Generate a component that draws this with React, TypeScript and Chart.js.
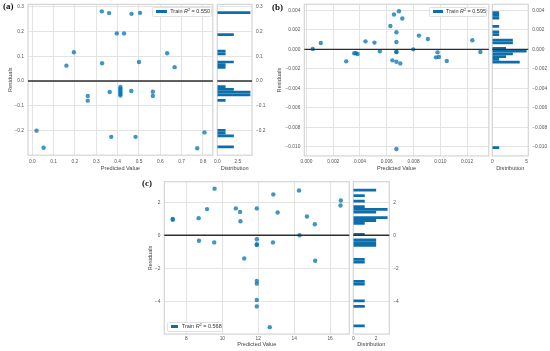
import React, { useEffect, useRef } from "react";
import { Chart, registerables } from "chart.js";

Chart.register(...registerables);

// ---------------- Panel (a) ----------------
const aPredicted = [0.02, 0.053, 0.16, 0.195, 0.26, 0.26, 0.326, 0.327, 0.36, 0.363, 0.37, 0.396, 0.43, 0.413, 0.413, 0.413, 0.413, 0.413, 0.413, 0.464, 0.465, 0.484, 0.5, 0.505, 0.565, 0.565, 0.632, 0.667, 0.773, 0.807];
const aResiduals = [-0.2, -0.269, 0.062, 0.116, -0.06, -0.079, 0.281, 0.072, 0.274, -0.044, -0.225, 0.192, 0.192, -0.024, -0.031, -0.037, -0.045, -0.052, -0.058, -0.04, 0.271, -0.225, 0.077, 0.275, -0.043, -0.06, 0.112, 0.056, -0.271, -0.207];
const aXTicks = [0, 0.1, 0.2, 0.3, 0.4, 0.5, 0.6, 0.7, 0.8];
const aYTicks = [-0.2, -0.1, 0, 0.1, 0.2, 0.3];
const aHistTicks = [0, 2.5];
const aXRange = [-0.02, 0.846];
const aYRange = [-0.299, 0.309];
const aHistMax = 4.2;
const aScore = "0.550";

// ---------------- Panel (b) ----------------
const bPredicted = [0.00047, 0.00107, 0.00297, 0.00357, 0.00369, 0.00382, 0.00441, 0.00508, 0.00548, 0.00627, 0.00654, 0.00691, 0.00716, 0.00672, 0.00672, 0.00672, 0.00672, 0.00642, 0.00672, 0.00701, 0.00672, 0.00798, 0.0084, 0.00907, 0.00979, 0.00967, 0.00989, 0.01048, 0.01239, 0.01299];
const bResiduals = [0.00003, 0.00065, -0.00123, -0.0004, -0.0004, -0.00048, 0.00082, 0.00069, -0.0002, 0.0024, 0.00357, 0.00391, 0.00316, 0.00175, 0.00075, -0.00027, -0.00027, -0.00113, -0.00127, -0.00144, -0.01022, 0.0, 0.00141, 0.00106, -0.00031, -0.00082, -0.00079, -0.0012, 0.00093, -0.00027];
const bXTicks = [0, 0.002, 0.004, 0.006, 0.008, 0.01, 0.012];
const bYTicks = [-0.01, -0.008, -0.006, -0.004, -0.002, 0, 0.002, 0.004];
const bHistTicks = [0, 5];
const bXRange = [-0.00016, 0.01362];
const bYRange = [-0.01093, 0.00462];
const bHistMax = 5.25;
const bScore = "0.595";

// ---------------- Panel (c) ----------------
const cPredicted = [7.24, 7.24, 8.68, 8.7, 9.15, 9.57, 9.55, 10.75, 10.99, 11.01, 11.22, 11.92, 11.92, 11.92, 11.92, 11.92, 11.92, 11.92, 11.92, 12.64, 12.84, 12.82, 13.08, 14.27, 14.3, 14.71, 15.15, 15.17, 16.6, 16.58];
const cResiduals = [0.99, 0.94, 1.04, -0.33, 1.59, 2.83, -0.43, 1.63, 1.42, 0.85, -1.4, 1.63, -0.24, -0.54, -0.59, -2.76, -2.93, -3.92, -4.31, -5.57, 2.48, -0.43, 1.38, 2.72, 0.0, 1.14, 0.67, -1.54, 2.11, 1.81];
const cXTicks = [8, 10, 12, 14, 16];
const cYTicks = [-4, -2, 0, 2];
const cHistTicks = [0, 2];
const cXRange = [6.77, 17.07];
const cYRange = [-5.99, 3.25];
const cHistMax = 3.15;
const cScore = "0.568";

const HIST_BINS = 50;

// ---------------- styling ----------------
const FONT = "'Liberation Sans', Arial, Helvetica, sans-serif";
const POINT = "rgba(0,114,178,0.75)";
const BAR = "#0e6eab";
const GRID = "#e3e3e3";
const FRAME = "#d4d4d4";
const TICK = "#555555";
const TITLE = "#444444";
const TICK_SIZE = 4.8;
const TITLE_SIZE = 5.6;

const fmt = (v: number, d: number) => {
  const s = Number(v).toFixed(d);
  return s.charAt(0) === "-" ? "\u2212" + s.slice(1) : s;
};

// matplotlib-style histogram of the residuals (50 equal bins over [min, max])
function histogram(values: number[], bins: number) {
  const min = Math.min(...values);
  const max = Math.max(...values);
  const w = (max - min) / bins;
  const counts = new Array(bins).fill(0);
  values.forEach((v) => {
    let k = Math.floor((v - min) / w + 1e-9);
    if (k >= bins) k = bins - 1;
    if (k < 0) k = 0;
    counts[k] += 1;
  });
  return counts.map((c, k) => ({ x: c, y: min + (k + 0.5) * w }));
}

const framePlugin = {
  id: "frame",
  beforeDatasetsDraw(chart: any) {
    const { ctx, chartArea } = chart;
    ctx.save();
    ctx.strokeStyle = FRAME;
    ctx.lineWidth = 1.2;
    ctx.strokeRect(chartArea.left, chartArea.top, chartArea.right - chartArea.left, chartArea.bottom - chartArea.top);
    ctx.restore();
  },
};

const zeroPlugin = {
  id: "zeroLine",
  afterDatasetsDraw(chart: any) {
    const { ctx, chartArea } = chart;
    const y = chart.scales.y.getPixelForValue(0);
    ctx.save();
    ctx.strokeStyle = "#2e2e2e";
    ctx.lineWidth = 1.4;
    ctx.beginPath();
    ctx.moveTo(chartArea.left, y);
    ctx.lineTo(chartArea.right, y);
    ctx.stroke();
    ctx.restore();
  },
};

type Panel = {
  x: number[];
  y: number[];
  xTicks: number[];
  yTicks: number[];
  histTicks: number[];
  xRange: number[];
  yRange: number[];
  histMax: number;
  xDec: number;
  yDec: number;
  hDec: number;
  main: { left: number; top: number; w: number; h: number; aTop: number; aRight: number; aLeft: number; aBottom: number; yTitlePad: number; xTickPad: number };
  hist: { left: number; w: number; padLeft: number; axisRight: number };
};

function tickFont() {
  return { family: FONT, size: TICK_SIZE };
}
function titleFont() {
  return { family: FONT, size: TITLE_SIZE };
}

function scatterConfig(p: Panel): any {
  const m = p.main;
  return {
    type: "scatter",
    data: {
      datasets: [
        {
          data: p.x.map((x, i) => ({ x, y: p.y[i] })),
          backgroundColor: POINT,
          borderWidth: 0,
          pointRadius: 2.2,
          pointHoverRadius: 2.2,
        },
      ],
    },
    options: {
      responsive: false,
      animation: false,
      devicePixelRatio: 1,
      events: [],
      layout: { padding: { left: 0, top: m.aTop, right: m.aRight, bottom: 0 } },
      plugins: { legend: { display: false }, tooltip: { enabled: false } },
      scales: {
        x: {
          type: "linear",
          min: p.xRange[0],
          max: p.xRange[1],
          bounds: "data",
          afterBuildTicks: (s: any) => {
            s.ticks = p.xTicks.map((v) => ({ value: v }));
          },
          afterFit: (s: any) => {
            s.height = m.aBottom;
            s.paddingLeft = 0;
            s.paddingRight = 0;
          },
          ticks: { autoSkip: false, maxRotation: 0, padding: m.xTickPad, color: TICK, font: tickFont(), callback: (v: number) => fmt(v, p.xDec) },
          grid: { color: GRID, lineWidth: 1, drawTicks: false },
          border: { display: false },
          title: { display: true, text: "Predicted Value", color: TITLE, font: titleFont(), padding: { top: 0, bottom: 0.34 } },
        },
        y: {
          type: "linear",
          min: p.yRange[0],
          max: p.yRange[1],
          bounds: "data",
          afterBuildTicks: (s: any) => {
            s.ticks = p.yTicks.map((v) => ({ value: v }));
          },
          afterFit: (s: any) => {
            s.width = m.aLeft;
            s.paddingTop = 0;
            s.paddingBottom = 0;
          },
          ticks: { autoSkip: false, padding: 4, color: TICK, font: tickFont(), callback: (v: number) => fmt(v, p.yDec) },
          grid: { color: GRID, lineWidth: 1, drawTicks: false },
          border: { display: false },
          title: { display: true, text: "Residuals", color: TITLE, font: titleFont(), padding: { top: m.yTitlePad, bottom: 0 } },
        },
      },
    },
    plugins: [framePlugin, zeroPlugin],
  };
}

function histConfig(p: Panel): any {
  const m = p.main;
  const h = p.hist;
  return {
    type: "bar",
    data: {
      datasets: [
        {
          data: histogram(p.y, HIST_BINS),
          backgroundColor: BAR,
          borderWidth: 0,
          inflateAmount: 0,
          barPercentage: 1,
          categoryPercentage: 1,
        },
      ],
    },
    options: {
      indexAxis: "y",
      responsive: false,
      animation: false,
      devicePixelRatio: 1,
      events: [],
      layout: { padding: { left: h.padLeft, top: m.aTop, right: 0, bottom: 0 } },
      plugins: { legend: { display: false }, tooltip: { enabled: false } },
      scales: {
        x: {
          type: "linear",
          min: 0,
          max: p.histMax,
          bounds: "data",
          afterBuildTicks: (s: any) => {
            s.ticks = p.histTicks.map((v) => ({ value: v }));
          },
          afterFit: (s: any) => {
            s.height = m.aBottom;
            s.paddingLeft = 0;
            s.paddingRight = 0;
          },
          ticks: { autoSkip: false, maxRotation: 0, padding: m.xTickPad, color: TICK, font: tickFont(), callback: (v: number) => fmt(v, p.hDec) },
          grid: { display: false, drawTicks: false },
          border: { display: false },
          title: { display: true, text: "Distribution", color: TITLE, font: titleFont(), padding: { top: 0, bottom: 0.34 } },
        },
        y: {
          type: "linear",
          position: "right",
          min: p.yRange[0],
          max: p.yRange[1],
          bounds: "data",
          offset: false,
          afterBuildTicks: (s: any) => {
            s.ticks = p.yTicks.map((v) => ({ value: v }));
          },
          afterFit: (s: any) => {
            s.width = h.axisRight;
            s.paddingTop = 0;
            s.paddingBottom = 0;
          },
          ticks: { autoSkip: false, padding: 4, color: TICK, font: tickFont(), callback: (v: number) => fmt(v, p.yDec) },
          grid: { color: GRID, lineWidth: 1, drawTicks: false, offset: false },
          border: { display: false },
        },
      },
    },
    plugins: [framePlugin, zeroPlugin],
  };
}

const panelA: Panel = {
  x: aPredicted, y: aResiduals, xTicks: aXTicks, yTicks: aYTicks, histTicks: aHistTicks,
  xRange: aXRange, yRange: aYRange, histMax: aHistMax, xDec: 1, yDec: 1, hDec: 1,
  main: { left: 0, top: 0, w: 215, h: 172, aTop: 4.4, aRight: 1.7, aLeft: 28, aBottom: 16.8, yTitlePad: 6.64, xTickPad: 3.5 },
  hist: { left: 207, w: 63, padLeft: 10.3, axisRight: 18 },
};
const panelB: Panel = {
  x: bPredicted, y: bResiduals, xTicks: bXTicks, yTicks: bYTicks, histTicks: bHistTicks,
  xRange: bXRange, yRange: bYRange, histMax: bHistMax, xDec: 3, yDec: 3, hDec: 0,
  main: { left: 270, top: 0, w: 221, h: 172, aTop: 4.3, aRight: 2, aLeft: 34.3, aBottom: 16.1, yTitlePad: 5.94, xTickPad: 3 },
  hist: { left: 482, w: 68, padLeft: 10.3, axisRight: 21.7 },
};
const panelC: Panel = {
  x: cPredicted, y: cResiduals, xTicks: cXTicks, yTicks: cYTicks, histTicks: cHistTicks,
  xRange: cXRange, yRange: cYRange, histMax: cHistMax, xDec: 0, yDec: 0, hDec: 0,
  main: { left: 140, top: 172, w: 212, h: 176, aTop: 9.7, aRight: 2.7, aLeft: 24.3, aBottom: 13.9, yTitlePad: 6.64, xTickPad: 1.5 },
  hist: { left: 343, w: 67, padLeft: 10.3, axisRight: 20.7 },
};

function ChartCanvas(props: { config: () => any; left: number; top: number; w: number; h: number }) {
  const ref = useRef<HTMLCanvasElement | null>(null);
  useEffect(() => {
    const chart = new Chart(ref.current as HTMLCanvasElement, props.config());
    return () => chart.destroy();
  }, []);
  return (
    <canvas
      ref={ref}
      width={props.w}
      height={props.h}
      style={{ position: "absolute", left: props.left, top: props.top, width: props.w, height: props.h }}
    />
  );
}

function Legend(props: { left: number; top: number; w: number; score: string }) {
  return (
    <div
      style={{
        position: "absolute",
        left: props.left,
        top: props.top,
        width: props.w,
        height: 10,
        background: "rgba(255,255,255,0.85)",
        border: "0.5px solid #e0e0e0",
        borderRadius: 1.5,
        boxSizing: "border-box",
        display: "flex",
        alignItems: "center",
        fontFamily: FONT,
        fontSize: 5.5,
        color: "#333",
        whiteSpace: "nowrap",
        lineHeight: 1,
      }}
    >
      <span style={{ display: "inline-block", width: 10.7, height: 3.3, background: BAR, marginLeft: 3.3, marginRight: 3.5 }} />
      <span>
        Train <i>R</i>
        <span style={{ fontSize: 3.6, position: "relative", top: -1.6 }}>2</span> = {props.score}
      </span>
    </div>
  );
}

function PanelLabel(props: { left: number; top: number; text: string }) {
  return (
    <div
      style={{
        position: "absolute",
        left: props.left,
        top: props.top,
        fontFamily: "'Liberation Serif', 'Times New Roman', serif",
        fontWeight: "bold",
        fontSize: 9,
        lineHeight: 1,
        color: "#111",
      }}
    >
      {props.text}
    </div>
  );
}

function PanelCharts(props: { p: Panel }) {
  const p = props.p;
  return (
    <>
      <ChartCanvas config={() => scatterConfig(p)} left={p.main.left} top={p.main.top} w={p.main.w} h={p.main.h} />
      <ChartCanvas config={() => histConfig(p)} left={p.hist.left} top={p.main.top} w={p.hist.w} h={p.main.h} />
    </>
  );
}

export default function App() {
  return (
    <div style={{ position: "fixed", left: 0, top: 0, width: 550, height: 351, background: "#fff", overflow: "hidden" }}>
      <PanelCharts p={panelA} />
      <PanelCharts p={panelB} />
      <PanelCharts p={panelC} />
      <Legend left={151.7} top={6.7} w={60} score={aScore} />
      <Legend left={429} top={6.5} w={58} score={bScore} />
      <Legend left={166.7} top={321.7} w={56} score={cScore} />
      <PanelLabel left={3} top={2.2} text="(a)" />
      <PanelLabel left={272} top={2.5} text="(b)" />
      <PanelLabel left={142} top={178.5} text="(c)" />
    </div>
  );
}
